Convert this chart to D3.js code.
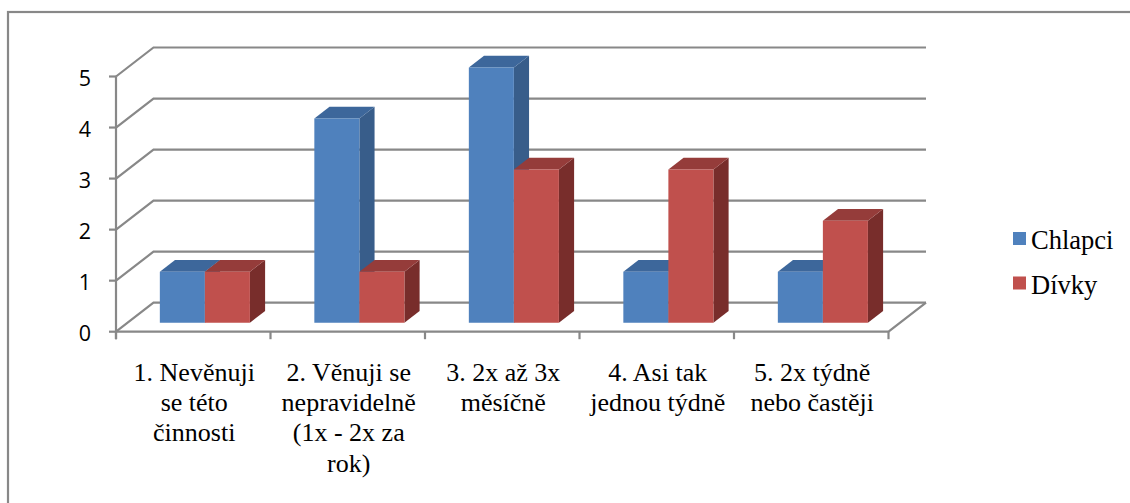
<!DOCTYPE html>
<html>
<head>
<meta charset="utf-8">
<script src="https://cdn.jsdelivr.net/npm/d3@7"></script>
<style>
  html, body { margin: 0; padding: 0; background: #fff; }
  svg { display: block; }
  .serif { font-family: "Liberation Serif", "Times New Roman", "DejaVu Serif", serif; }
  .sans { font-family: "Open Sans", "Liberation Sans", sans-serif; }
</style>
</head>
<body>
<svg id="chart" width="1130" height="503"></svg>
<script>
// Categories (each label split into its wrapped lines)
const categories = ["c1", "c2", "c3", "c4", "c5"];
const categoryLabels = [
  ["1. Nevěnuji", "se této", "činnosti"],
  ["2. Věnuji se", "nepravidelně", "(1x - 2x za", "rok)"],
  ["3. 2x až 3x", "měsíčně"],
  ["4. Asi tak", "jednou týdně"],
  ["5. 2x týdně", "nebo častěji"]
];
const seriesNames = ["Chlapci", "Dívky"];
const chlapci = [1, 4, 5, 1, 1];
const divky = [1, 1, 3, 3, 2];
const yTicks = [0, 1, 2, 3, 4, 5];

const seriesValues = [chlapci, divky];
const palette = [
  { front: "#4F81BD", top: "#3D679B", side: "#385D8A" },
  { front: "#C0504D", top: "#953C3A", side: "#782D2B" }
];

const svg = d3.select("#chart");

// Front plane of the 3D box
const left = 116, right = 888.5;
const y = d3.scaleLinear().domain([0, 5]).range([331.7, 76.5]);
const x0 = d3.scaleBand().domain(categories).range([left, right])
  .paddingInner(0.417).paddingOuter(0.2085);
const x1 = d3.scaleBand().domain(seriesNames).range([0, x0.bandwidth()]);

// Oblique depth: z = 0 front, z = 1 back wall
const DX = 37.5, DY = -29;
const proj = (px, py, z) => [px + DX * z, py + DY * z];
const zFront = 0.31, zBack = 0.715;

const gridColor = "#888888";

// Outer frame
svg.append("rect")
  .attr("x", 8).attr("y", 12).attr("width", 1140).attr("height", 520)
  .attr("fill", "none").attr("stroke", gridColor).attr("stroke-width", 2.2);

const line = d3.line();
const grid = svg.append("g").attr("fill", "none").attr("stroke", gridColor)
  .attr("stroke-width", 2.2);

// Side-wall and back-wall gridlines
yTicks.forEach(v => {
  const yv = y(v);
  grid.append("path").attr("d", line([
    [left, yv], proj(left, yv, 1), proj(right, yv, 1)
  ]));
});
// Floor right edge and front edge
grid.append("path").attr("d", line([[left, y(0)], [right, y(0)], proj(right, y(0), 1)]));
// Value axis line
grid.append("path").attr("d", line([[left, y(5)], [left, y(0) + 7.5]]));
// Value axis ticks
yTicks.forEach(v => {
  grid.append("path").attr("d", line([[left - 7, y(v)], [left, y(v)]]));
});
// Category axis ticks
d3.range(categories.length + 1).forEach(i => {
  const xv = left + i * x0.step();
  grid.append("path").attr("d", line([[xv, y(0)], [xv, y(0) + 7.5]]));
});

// Bars
const bars = svg.append("g");
categories.forEach((c, ci) => {
  seriesNames.forEach((s, si) => {
    const v = seriesValues[si][ci];
    const xa = x0(c) + x1(s), xb = xa + x1.bandwidth();
    const yt = y(v), yb = y(0);
    const col = palette[si];
    // front face
    const f = [proj(xa, yt, zFront), proj(xb, yt, zFront), proj(xb, yb, zFront), proj(xa, yb, zFront)];
    // top face
    const t = [proj(xa, yt, zFront), proj(xa, yt, zBack), proj(xb, yt, zBack), proj(xb, yt, zFront)];
    // right side face
    const r = [proj(xb, yt, zFront), proj(xb, yt, zBack), proj(xb, yb, zBack), proj(xb, yb, zFront)];
    bars.append("path").attr("d", line(r) + "Z").attr("fill", col.side);
    bars.append("path").attr("d", line(t) + "Z").attr("fill", col.top);
    bars.append("path").attr("d", line(f) + "Z").attr("fill", col.front);
  });
});

// Value axis labels
svg.append("g").attr("class", "sans").selectAll("text").data(yTicks).join("text")
  .attr("x", 91).attr("y", d => y(d) + 1)
  .attr("text-anchor", "end").attr("dominant-baseline", "central")
  .attr("font-size", 21.5).attr("fill", "#000")
  .text(d => d);

// Category labels
const catG = svg.append("g").attr("class", "serif")
  .attr("font-size", 26).attr("fill", "#000").attr("text-anchor", "middle");
categories.forEach((c, ci) => {
  const cx = x0(c) + x0.bandwidth() / 2 + 1;
  const tx = catG.append("text").attr("x", cx).attr("y", 381);
  categoryLabels[ci].forEach((ln, li) => {
    tx.append("tspan").attr("x", cx).attr("dy", li === 0 ? 0 : 30.2).text(ln);
  });
});

// Legend
const leg = svg.append("g").attr("class", "serif")
  .attr("font-size", 26.5).attr("fill", "#000");
seriesNames.forEach((s, i) => {
  const yy = 232 + i * 44.5;
  leg.append("rect").attr("x", 1013).attr("y", yy).attr("width", 13).attr("height", 13)
    .attr("fill", palette[i].front);
  leg.append("text").attr("x", 1031).attr("y", yy + 17).text(s);
});
</script>
</body>
</html>
